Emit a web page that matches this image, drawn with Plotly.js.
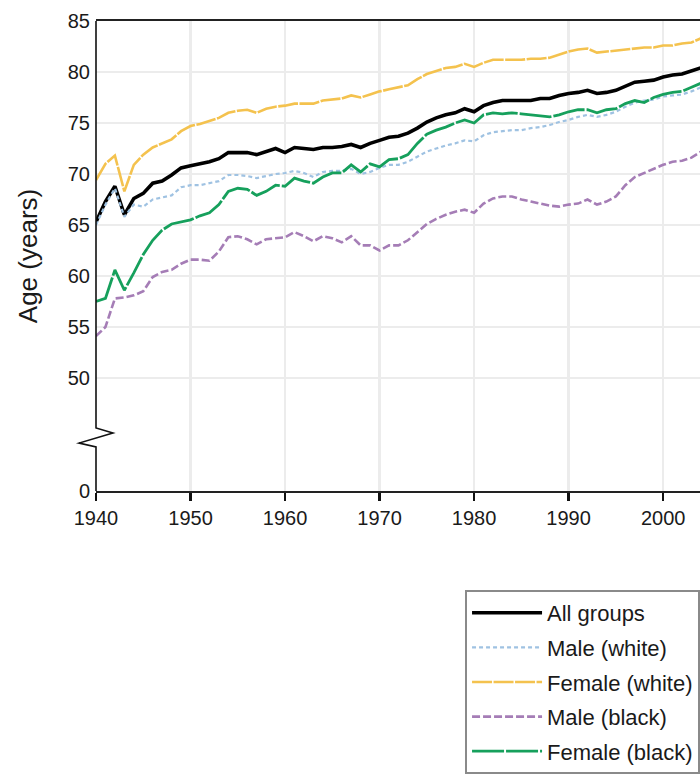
<!DOCTYPE html>
<html>
<head>
<meta charset="utf-8">
<script src="https://cdn.plot.ly/plotly-3.0.1.min.js"></script>
<style>
html,body{margin:0;padding:0;background:#fff;}
#chart{width:700px;height:777px;}
</style>
</head>
<body>
<div id="chart"></div>
<script>
var years = [];
for (var yr = 1940; yr <= 2004; yr++) years.push(yr);

var allGroups = [65.3,67.3,68.8,66.0,67.6,68.1,69.1,69.3,69.9,70.6,
  70.8,71.0,71.2,71.5,72.1,72.1,72.1,71.9,72.2,72.5,
  72.1,72.6,72.5,72.4,72.6,72.6,72.7,72.9,72.6,73.0,
  73.3,73.6,73.7,74.0,74.5,75.1,75.5,75.8,76.0,76.4,
  76.1,76.7,77.0,77.2,77.2,77.2,77.2,77.4,77.4,77.7,
  77.9,78.0,78.2,77.9,78.0,78.2,78.6,79.0,79.1,79.2,
  79.5,79.7,79.8,80.1,80.4];

var maleWhite = [65.0,67.0,68.6,65.8,67.0,66.8,67.5,67.7,67.9,68.7,
  68.9,68.9,69.1,69.3,69.9,69.9,69.8,69.6,69.8,70.0,
  70.1,70.3,70.1,69.7,70.2,70.3,70.3,70.5,70.0,70.2,
  70.6,70.9,70.9,71.2,71.7,72.2,72.5,72.8,73.0,73.3,
  73.2,73.8,74.1,74.2,74.3,74.3,74.5,74.6,74.8,75.1,
  75.3,75.6,75.8,75.6,75.8,76.1,76.6,77.0,77.2,77.3,
  77.6,77.7,77.8,78.1,78.5];

var femaleWhite = [69.4,71.0,71.8,68.3,70.9,71.9,72.6,73.0,73.4,74.2,
  74.7,74.9,75.2,75.5,76.0,76.2,76.3,76.0,76.4,76.6,
  76.7,76.9,76.9,76.9,77.2,77.3,77.4,77.7,77.5,77.8,
  78.1,78.3,78.5,78.7,79.3,79.8,80.1,80.4,80.5,80.8,
  80.5,80.9,81.2,81.2,81.2,81.2,81.3,81.3,81.4,81.7,
  82.0,82.2,82.3,81.9,82.0,82.1,82.2,82.3,82.4,82.4,
  82.6,82.6,82.8,82.9,83.3];

var maleBlack = [54.1,55.0,57.8,57.9,58.1,58.5,59.9,60.4,60.6,61.2,
  61.6,61.6,61.5,62.4,63.8,63.9,63.6,63.1,63.6,63.7,
  63.8,64.3,63.9,63.4,63.9,63.7,63.3,63.9,63.0,63.0,
  62.5,63.0,63.0,63.5,64.3,65.1,65.6,66.0,66.3,66.5,
  66.2,67.1,67.6,67.8,67.8,67.5,67.3,67.1,66.9,66.8,
  67.0,67.1,67.5,67.0,67.3,67.8,68.9,69.7,70.1,70.5,
  70.9,71.2,71.3,71.6,72.2];

var femaleBlack = [57.5,57.8,60.6,58.6,60.3,62.1,63.5,64.5,65.1,65.3,
  65.5,65.9,66.2,67.0,68.3,68.6,68.5,67.9,68.3,68.9,
  68.8,69.6,69.3,69.1,69.7,70.1,70.1,70.9,70.2,71.0,
  70.7,71.4,71.5,71.9,73.0,73.9,74.3,74.6,75.0,75.3,
  75.0,75.8,76.0,75.9,76.0,75.9,75.8,75.7,75.6,75.8,
  76.1,76.3,76.3,76.0,76.3,76.4,76.9,77.2,77.0,77.5,
  77.8,78.0,78.1,78.5,78.9];

var seriesNames = ['All groups','Male (white)','Female (white)','Male (black)','Female (black)'];

// axis break: the bottom of the axis is labelled 0
var axisBottom = 38.92;
var yTickVals = [axisBottom,50,55,60,65,70,75,80,85];
var yTickText = ['0','50','55','60','65','70','75','80','85'];
var xTickVals = [1940,1950,1960,1970,1980,1990,2000];

var traces = [
  {y: allGroups, name: seriesNames[0], line:{color:'#000000', width:3.6}},
  {y: maleWhite, name: seriesNames[1], line:{color:'#9fc2e2', width:2.2, dash:'4px,3px'}},
  {y: femaleWhite, name: seriesNames[2], line:{color:'#f4c24e', width:2.6, dash:'20px,1.5px'}},
  {y: maleBlack, name: seriesNames[3], line:{color:'#a57db6', width:2.6, dash:'8px,3px'}},
  {y: femaleBlack, name: seriesNames[4], line:{color:'#16a05c', width:2.8, dash:'32px,2px'}}
].map(function(t, i){
  t.x = years; t.type = 'scatter'; t.mode = 'lines';
  t.legendgroup = 'g' + i;
  return t;
});

var fontFam = '"Liberation Sans", Arial, sans-serif';
var tickFont = {family:fontFam, size:20, color:'#1a1a1a'};

var layout = {
  width:700, height:777,
  margin:{l:96, r:0, t:21, b:286, autoexpand:false},
  paper_bgcolor:'#ffffff', plot_bgcolor:'#ffffff',
  showlegend:true,
  legend:{
    x:0.611, y:-0.2106, xanchor:'left', yanchor:'top',
    bordercolor:'#8a8a8a', borderwidth:2, bgcolor:'#ffffff',
    traceorder:'grouped', tracegroupgap:3, itemwidth:70,
    font:{family:fontFam, size:22, color:'#1a1a1a'}
  },
  xaxis:{
    range:[1940, 2003.9], tickvals:xTickVals, ticks:'outside', ticklen:8, tickwidth:2.5, tickcolor:'#111',
    showline:true, linecolor:'#222', linewidth:1.8, mirror:true,
    showgrid:true, gridcolor:'#ececec', gridwidth:2.5, zeroline:false,
    tickfont:tickFont, fixedrange:true
  },
  yaxis:{
    range:[axisBottom, 85], tickvals:yTickVals, ticktext:yTickText, ticks:'',
    showline:false, showgrid:true, gridcolor:'#ececec', gridwidth:2.5, zeroline:false,
    tickfont:tickFont, ticklabelstandoff:5, fixedrange:true,
    title:{text:'Age (years)', standoff:22, font:{family:fontFam, size:26, color:'#1a1a1a'}}
  },
  shapes:[{
    type:'path', xref:'paper', yref:'paper', layer:'above',
    path:'M0,1 L0,0.134 L0.028,0.1234 L-0.028,0.102 L0,0.0936 L0,0',
    line:{color:'#111', width:1.6}
  }],
  hovermode:false
};

Plotly.newPlot('chart', traces, layout, {displayModeBar:false, staticPlot:true});
</script>
</body>
</html>
